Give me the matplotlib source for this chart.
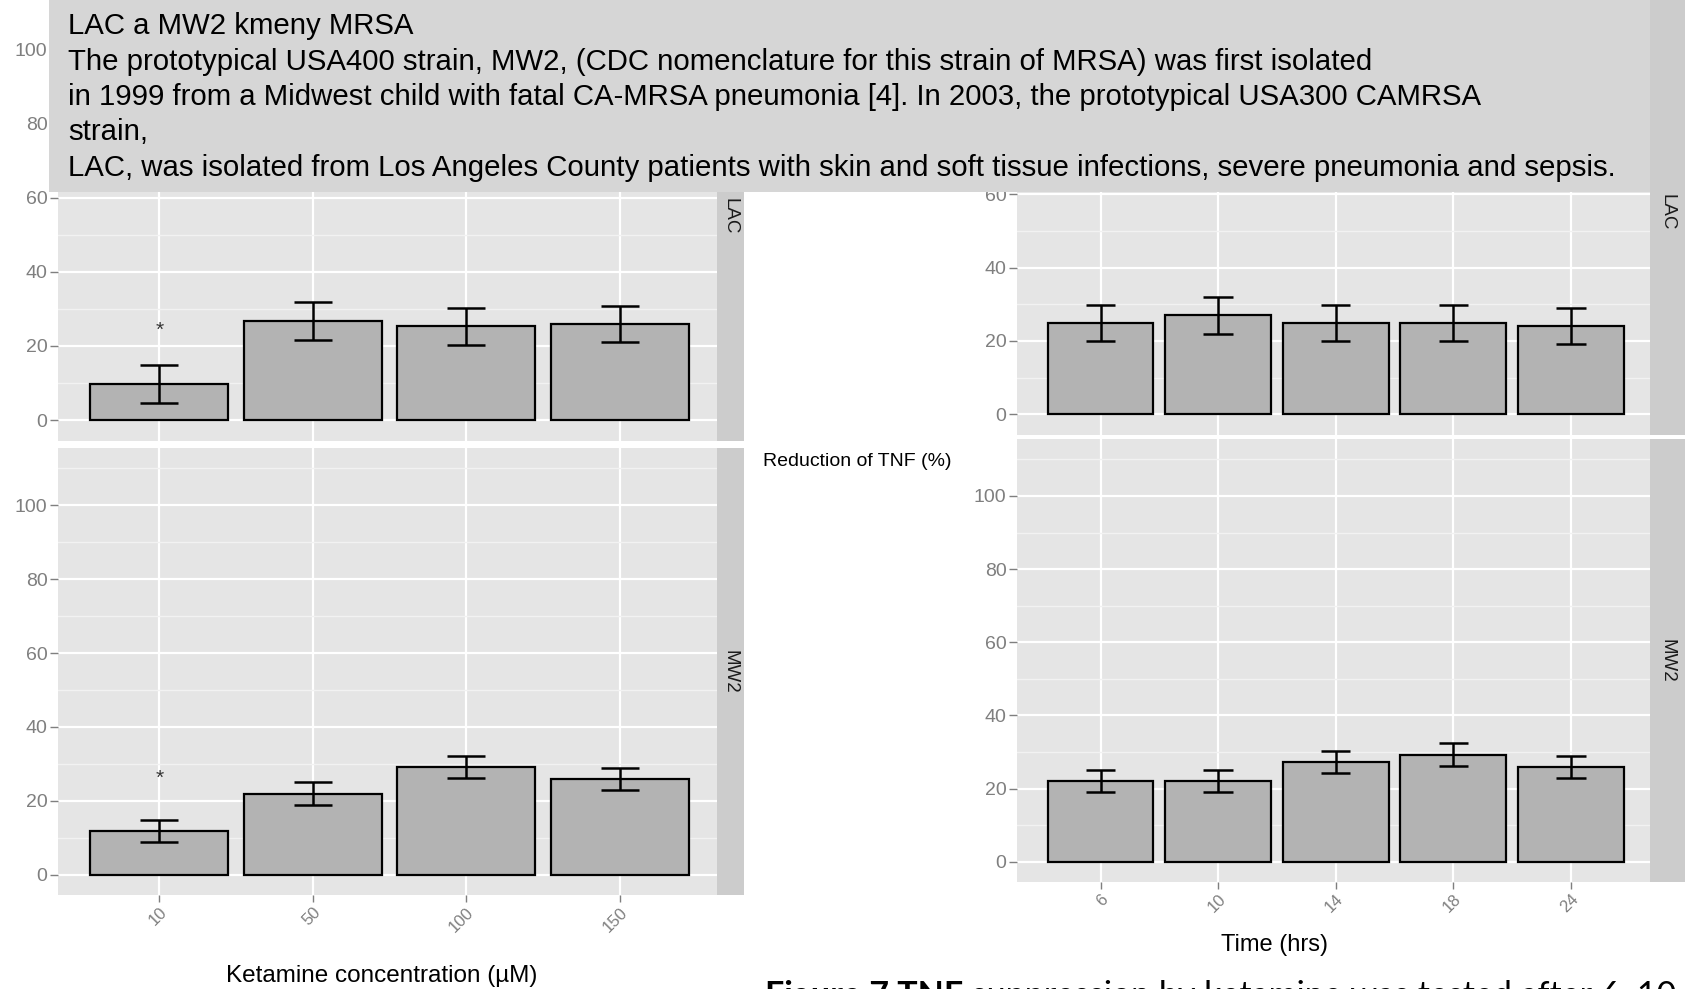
import matplotlib
matplotlib.use('Agg')
import matplotlib.pyplot as plt
from matplotlib.patches import Rectangle
import numpy as np

# --- data ---
conc_labels = ['10', '50', '100', '150']
lac_conc_mean = [9.8, 26.7, 25.3, 25.9]
lac_conc_err = [5.1, 5.1, 5.0, 4.8]
mw2_conc_mean = [11.8, 21.9, 29.1, 25.9]
mw2_conc_err = [3.0, 3.1, 3.0, 3.0]
conc_star_y = [22.7, 24.7]   # "*" label over 10 uM, LAC / MW2

time_labels = ['6', '10', '14', '18', '24']
lac_time_mean = [24.9, 27.0, 24.9, 24.9, 24.0]
lac_time_err = [5.0, 5.0, 5.0, 5.0, 4.9]
mw2_time_mean = [22.1, 22.1, 27.3, 29.3, 26.0]
mw2_time_err = [3.0, 3.0, 3.1, 3.1, 3.0]

strain_names = ['LAC', 'MW2']

title_lines = [
    'LAC a MW2 kmeny MRSA',
    'The prototypical USA400 strain, MW2, (CDC nomenclature for this strain of MRSA) was first isolated',
    'in 1999 from a Midwest child with fatal CA-MRSA pneumonia [4]. In 2003, the prototypical USA300 CAMRSA',
    'strain,',
    'LAC, was isolated from Los Angeles County patients with skin and soft tissue infections, severe pneumonia and sepsis.',
]

W, H = 1685, 989
plt.rcParams['font.family'] = ['Liberation Sans', 'DejaVu Sans']

fig = plt.figure(figsize=(W / 100, H / 100), dpi=100)
fig.patch.set_facecolor('white')


def px_axes(x0, y0, x1, y1, **kw):
    # axes from pixel box (top-left origin)
    return fig.add_axes([x0 / W, 1 - y1 / H, (x1 - x0) / W, (y1 - y0) / H], **kw)


def gg_panel(ax, labels, means, errs, xlim, show_x, hide_above=None):
    x = np.arange(len(labels))
    ax.set_facecolor('#e5e5e5')
    for s in ax.spines.values():
        s.set_visible(False)
    ax.set_ylim(-5.5, 115.5)
    ax.set_xlim(*xlim)
    yt = [0, 20, 40, 60, 80, 100]
    ax.set_yticks(yt)
    # labels that sit under the grey box are left empty
    ax.set_yticklabels([str(v) if hide_above is None or v <= hide_above else '' for v in yt])
    ax.set_yticks([10, 30, 50, 70, 90, 110], minor=True)
    ax.set_xticks(x)
    ax.grid(which='major', color='white', lw=1.6)
    ax.grid(which='minor', axis='y', color='#f2f2f2', lw=1.0)
    ax.set_axisbelow(True)
    ax.tick_params(which='minor', length=0)
    ax.tick_params(axis='y', colors='#7f7f7f', length=5.5, width=1.0, pad=2, labelsize=14)
    if show_x:
        ax.tick_params(axis='x', colors='#7f7f7f', length=5, width=1.0, pad=2)
        ax.set_xticklabels(labels, rotation=45, ha='right', va='top',
                           rotation_mode='anchor', fontsize=12, color='#7f7f7f')
    else:
        ax.tick_params(axis='x', length=0, labelbottom=False)

    ax.bar(x, means, width=0.9, color='#b3b3b3', edgecolor='black', lw=1.6, zorder=3)
    lo = np.array(means) - np.array(errs)
    hi = np.array(means) + np.array(errs)
    ax.vlines(x, lo, hi, color='black', lw=1.8, zorder=4)
    ax.hlines(lo, x - 0.125, x + 0.125, color='black', lw=1.8, zorder=4)
    ax.hlines(hi, x - 0.125, x + 0.125, color='black', lw=1.8, zorder=4)


def strip(x0, y0, x1, y1, label):
    sa = px_axes(x0, y0, x1, y1)
    sa.set_facecolor('#cccccc')
    sa.set_xticks([])
    sa.set_yticks([])
    for s in sa.spines.values():
        s.set_visible(False)
    sa.text(0.5, 0.5, label, rotation=-90, ha='center', va='center',
            fontsize=13.5, color='#1a1a1a', transform=sa.transAxes)


# left figure: ketamine concentration
left_x = (58, 716.5)
ax1 = px_axes(left_x[0], -8.3, left_x[1], 440.6)
gg_panel(ax1, conc_labels, lac_conc_mean, lac_conc_err, (-0.66, 3.63), False)
ax2 = px_axes(left_x[0], 448, left_x[1], 895)
gg_panel(ax2, conc_labels, mw2_conc_mean, mw2_conc_err, (-0.66, 3.63), True)
for a, y in zip([ax1, ax2], conc_star_y):
    a.text(0, y, '*', ha='center', va='baseline', fontsize=15, color='#333333', zorder=5)
strip(716.5, -8.3, 743.6, 440.6, strain_names[0])
strip(716.5, 448, 743.6, 895, strain_names[1])
fig.text(382 / W, 1 - 976 / H, 'Ketamine concentration (µM)', ha='center', va='center',
         fontsize=17.5, color='black')

# right figure: time
right_x = (1017, 1649.8)
ax3 = px_axes(right_x[0], -9.6, right_x[1], 434.5)
gg_panel(ax3, time_labels, lac_time_mean, lac_time_err, (-0.71, 4.67), False, hide_above=60)
ax4 = px_axes(right_x[0], 439.3, right_x[1], 881.8)
gg_panel(ax4, time_labels, mw2_time_mean, mw2_time_err, (-0.71, 4.67), True)
strip(1649.8, -9.6, 1685, 434.5, strain_names[0])
strip(1649.8, 439.3, 1685, 881.8, strain_names[1])
fig.text(1274.5 / W, 1 - 945 / H, 'Time (hrs)', ha='center', va='center',
         fontsize=17, color='black')
fig.text(762.7 / W, 1 - 462 / H, 'Reduction of TNF (%)', ha='left', va='center',
         fontsize=14, color='black')

# grey text box on top
fig.add_artist(Rectangle((49 / W, 1 - 192 / H), (1650 - 49) / W, 192 / H,
                         transform=fig.transFigure, facecolor='#d6d6d6',
                         edgecolor='none', zorder=10))
baselines = [34, 69.5, 105, 140.5, 175.5]
for line, yb in zip(title_lines, baselines):
    fig.text(67.8 / W, 1 - yb / H, line, ha='left', va='baseline',
             fontsize=21.15, color='black', zorder=11)

# caption cut off at the bottom edge
cap1 = fig.text(765 / W, 1 - 980 / H, 'Figure 7 TNF', ha='left', va='top',
                fontsize=24.5, fontweight='bold', family=['Lato', 'DejaVu Sans'])
fig.add_artist(matplotlib.text.Annotation(
    ' suppression by ketamine was tested after 6, 10', xy=(1, 1), xycoords=cap1,
    ha='left', va='top', fontsize=24.5, family=['Lato', 'DejaVu Sans']))

fig.savefig('out.png', dpi=100)
